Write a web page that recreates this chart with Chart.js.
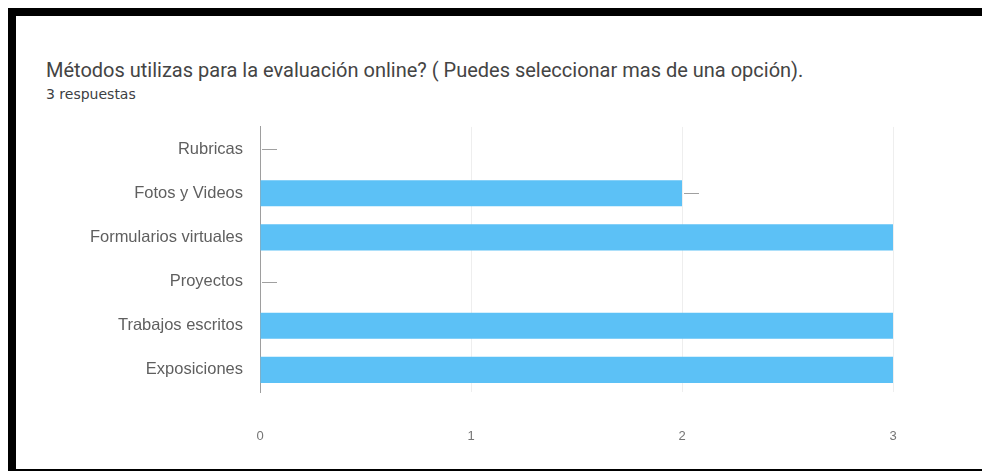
<!DOCTYPE html>
<html>
<head>
<meta charset="utf-8">
<script src="https://cdn.jsdelivr.net/npm/chart.js@4"></script>
<style>
  html, body { margin: 0; padding: 0; overflow: hidden; }
  body {
    width: 982px; height: 472px; position: relative; font-family: Roboto, Arial, sans-serif;
    /* black frame: top band, left band, bottom rule */
    background:
      linear-gradient(#000, #000) 8px 8px / 974px 8px no-repeat,
      linear-gradient(#000, #000) 8px 8px / 8px 463px no-repeat,
      linear-gradient(#000, #000) 8px 469px / 974px 2px no-repeat,
      #fff;
  }
  .title { position: absolute; left: 46px; top: 58px; font-size: 20px; color: #444; white-space: nowrap; }
  .subtitle { position: absolute; left: 46px; top: 86px; font-family: "DejaVu Sans", sans-serif; font-size: 14px; color: #3c4043; }
  #chart { position: absolute; left: 16px; top: 100px; }
</style>
</head>
<body>
<div class="title">Métodos utilizas para la evaluación online? ( Puedes seleccionar mas de una opción).</div>
<div class="subtitle">3 respuestas</div>
<canvas id="chart" width="950" height="368"></canvas>

<script>
// --- Data ---
const categories = ["Rubricas", "Fotos y Videos", "Formularios virtuales", "Proyectos", "Trabajos escritos", "Exposiciones"];
const responses = [0, 2, 3, 0, 3, 3];
const tickValues = [0, 1, 2, 3];

const barColor = "#5cc1f6";

// short gray stem drawn at the end of each bar that does not reach the max
const stemPlugin = {
    id: "valueStems",
    afterDatasetsDraw: function (chart) {
        const ctx = chart.ctx;
        const xs = chart.scales.x;
        const ys = chart.scales.y;
        const maxVal = tickValues[tickValues.length - 1];
        ctx.save();
        ctx.strokeStyle = "#a0a0a0";
        ctx.lineWidth = 1;
        responses.forEach(function (v, i) {
            if (v >= maxVal) return;
            const x = xs.getPixelForValue(v);
            const y = Math.round(ys.getPixelForValue(i)) + 0.5;
            ctx.beginPath();
            ctx.moveTo(x + 2, y);
            ctx.lineTo(x + 17, y);
            ctx.stroke();
        });
        ctx.restore();
    }
};

new Chart(document.getElementById("chart"), {
    type: "bar",
    data: {
        labels: categories,
        datasets: [{
            data: responses,
            backgroundColor: barColor,
            borderWidth: 0,
            categoryPercentage: 1.0,
            barPercentage: 0.59,
        }],
    },
    options: {
        responsive: false,
        indexAxis: "y",
        animation: false,
        layout: { padding: { top: 0, right: 73, bottom: 24, left: 0 } },
        plugins: {
            legend: { display: false },
            tooltip: { enabled: false },
        },
        scales: {
            x: {
                min: 0,
                max: 3,
                afterBuildTicks: function (axis) {
                    axis.ticks = tickValues.map(function (v) { return { value: v }; });
                },
                grid: { color: "#eeeeee", drawTicks: false },
                border: { display: false },
                ticks: {
                    color: "#757575",
                    padding: 37,
                    font: { family: "'Liberation Sans', Arial, sans-serif", size: 13 },
                },
                afterFit: function (axis) { axis.height = 52; },
            },
            y: {
                grid: { display: false, drawTicks: false },
                border: { display: true, color: "#9e9e9e", width: 1 },
                ticks: {
                    color: "#5f5f5f",
                    padding: 17,
                    font: { family: "'Liberation Sans', Arial, sans-serif", size: 16.5 },
                },
                afterFit: function (axis) { axis.width = 244; },
            },
        },
    },
    plugins: [stemPlugin],
});
</script>
</body>
</html>
